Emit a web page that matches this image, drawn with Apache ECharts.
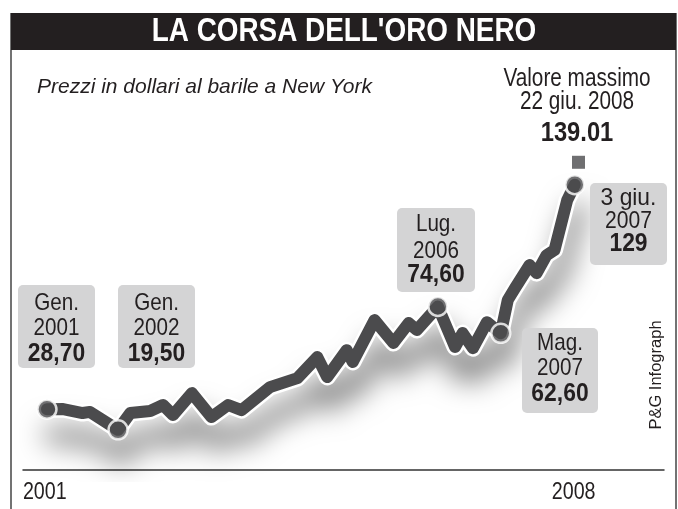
<!DOCTYPE html>
<html><head><meta charset="utf-8">
<script src="https://cdn.jsdelivr.net/npm/echarts@6/dist/echarts.min.js"></script>
<style>html,body{margin:0;padding:0;background:#fff}#c{width:678px;height:509px}</style>
</head><body><div id="c"></div>
<script>
// ---- data ----
const dates = ['2001-01-01','2001-03-25','2001-07-03','2001-08-10','2002-01-01','2002-03-05','2002-06-15','2002-08-20','2002-10-10','2003-01-15','2003-04-25','2003-07-20','2003-09-27','2004-02-20','2004-07-10','2004-10-20','2004-12-10','2005-03-20','2005-04-20','2005-08-10','2005-11-15','2006-02-01','2006-03-15','2006-07-01','2006-09-27','2006-11-05','2006-12-28','2007-03-10','2007-05-20','2007-06-25','2007-08-01','2007-10-15','2007-11-20','2008-01-10','2008-02-20','2008-04-25','2008-06-03'];
const prices = [28.7,28.8,27.0,27.5,19.5,27.0,27.9,30.6,26.1,35.9,25.2,30.6,28.3,38.6,42.6,52.0,43.1,55.1,49.8,68.5,58.3,67.2,64.1,74.6,56.5,62.7,56.0,67.6,62.6,77.5,82.8,93.1,89.5,97.5,99.8,122.1,129];
const keyDates = ['2001-01-01','2002-01-01','2006-07-01','2007-05-20','2008-06-03'];
const keyPrices = [28.7,19.5,74.6,62.6,129];
const peakDates = ['2008-06-22'];
const peakPrices = [139.01];
const yearLabels = ['2001','2008'];
const yearLabelDates = ['2000-12-21','2008-05-28'];
const boxLabels = [['Gen.','2001','28,70'],['Gen.','2002','19,50'],['Lug.','2006','74,60'],['3 giu.','2007','129'],['Mag.','2007','62,60']];
const peakLabel = ['Valore massimo','22 giu. 2008','139.01'];
const titleText = "LA CORSA DELL'ORO NERO";
const subtitleText = 'Prezzi in dollari al barile a New York';
const creditText = 'P&G Infograph';

// ---- styles / layout ----
const SANS = '"Liberation Sans",Arial,sans-serif';
const INK = '#231f20';
const LINE = '#4b4b4d';
const BOX = '#d4d4d5';
const ts = d => new Date(d + 'T00:00:00Z').getTime();

const lineData = dates.map((d,i)=>[ts(d), prices[i]]);
const keyData = keyDates.map((d,i)=>[ts(d), keyPrices[i]]);
const peakData = peakDates.map((d,i)=>[ts(d), peakPrices[i]]);
const labelTs = yearLabelDates.map(ts);

// narrow text helper (condensed look via horizontal scale)
function ntext(x, y, text, size, bold, sx, extra) {
  return Object.assign({type:'text', x:x, y:y, scaleX:sx, scaleY:1,
    style:{text:text, font:(bold?'bold ':'')+size+'px '+SANS, fill:INK, align:'center', verticalAlign:'middle'}}, extra||{});
}

// box layout: [x, y, w, h, line offsets, sizes, scales]
const boxLayout = [
  [18,285,77,83,[17.5,42.5,68],[24,24,26],[0.86,0.86,0.88]],
  [118,285,77,83,[17.5,42.5,68],[24,24,26],[0.86,0.86,0.88]],
  [397,208,78,84,[15.5,42,66],[24,24,26],[0.86,0.86,0.88]],
  [590,183,77,82,[14.5,37,59.5],[24,24,26],[0.95,0.88,0.88]],
  [522,328,76,85,[14,39,64.5],[24,24,26],[0.86,0.86,0.88]]
];

const chart = echarts.init(document.getElementById('c'), null, {renderer:'canvas'});
chart.setOption({
  animation:false,
  backgroundColor:'#fff',
  grid:{left:23, right:14, top:92.9, bottom:35.5},
  xAxis:{
    type:'value', min:ts('2000-08-31'), max:ts('2009-09-04'),
    offset:-3.5,
    axisLine:{show:true, lineStyle:{color:'#333', width:1.5}},
    axisTick:{show:false},
    splitLine:{show:false},
    axisLabel:{show:false}
  },
  yAxis:{type:'value', min:0, max:170, show:false},
  series:[
    {type:'line', data:lineData, symbol:'none', silent:true, z:2,
     lineStyle:{color:'#fff', width:17, join:'round', cap:'round', shadowColor:'rgba(0,0,0,0.5)', shadowBlur:28, shadowOffsetY:26, shadowOffsetX:5}},
    {type:'line', data:lineData, symbol:'none', silent:true, z:3,
     lineStyle:{color:LINE, width:12, join:'round', cap:'round'}},
    {type:'scatter', data:keyData, symbol:'circle', symbolSize:19, z:4,
     itemStyle:{color:LINE, borderColor:'#fff', borderWidth:2.5}},
    {type:'scatter', data:peakData, symbol:'rect', symbolSize:[13,13], z:4,
     itemStyle:{color:LINE}}
  ]
});

const graphics = [];
graphics.push({type:'line', shape:{x1:11,y1:13,x2:11,y2:509}, style:{stroke:'#444',lineWidth:1.5}});
graphics.push({type:'line', shape:{x1:676,y1:13,x2:676,y2:509}, style:{stroke:'#444',lineWidth:1.5}});
graphics.push({type:'rect', shape:{x:11,y:13,width:665,height:37}, style:{fill:INK}});
const ttl = ntext(344, 32, titleText, 34, true, 0.82);
ttl.style.fill = '#fff';
graphics.push(ttl);
graphics.push({type:'text', x:37, y:87, style:{text:subtitleText, font:'italic 21px '+SANS, fill:INK, align:'left', verticalAlign:'middle'}});
graphics.push({type:'text', x:656, y:375, rotation:Math.PI/2, style:{text:creditText, font:'16.5px '+SANS, fill:INK, align:'center', verticalAlign:'middle'}});
graphics.push(ntext(577, 79, peakLabel[0], 25, false, 0.83));
graphics.push(ntext(577, 102, peakLabel[1], 25, false, 0.83));
graphics.push(ntext(577, 134, peakLabel[2], 27, true, 0.88));
boxLayout.forEach((b,i)=>{
  const [x,y,w,h,offs,sizes,scales] = b;
  const lab = boxLabels[i];
  graphics.push({type:'rect', shape:{x:x,y:y,width:w,height:h,r:5}, style:{fill:BOX}, z:10});
  lab.forEach((t,j)=>{
    graphics.push(ntext(x+w/2, y+offs[j]+1, t, sizes[j], j===2, scales[j], {z:11}));
  });
});
// year tick labels positioned through the x axis scale
const axisY = chart.convertToPixel({yAxisIndex:0}, 0) - 3.5;
labelTs.forEach((t,i)=>{
  const px = chart.convertToPixel({xAxisIndex:0}, t);
  graphics.push(ntext(px, axisY + 22, yearLabels[i], 24, false, 0.82));
});
chart.setOption({graphic:graphics});
</script>
</body></html>
